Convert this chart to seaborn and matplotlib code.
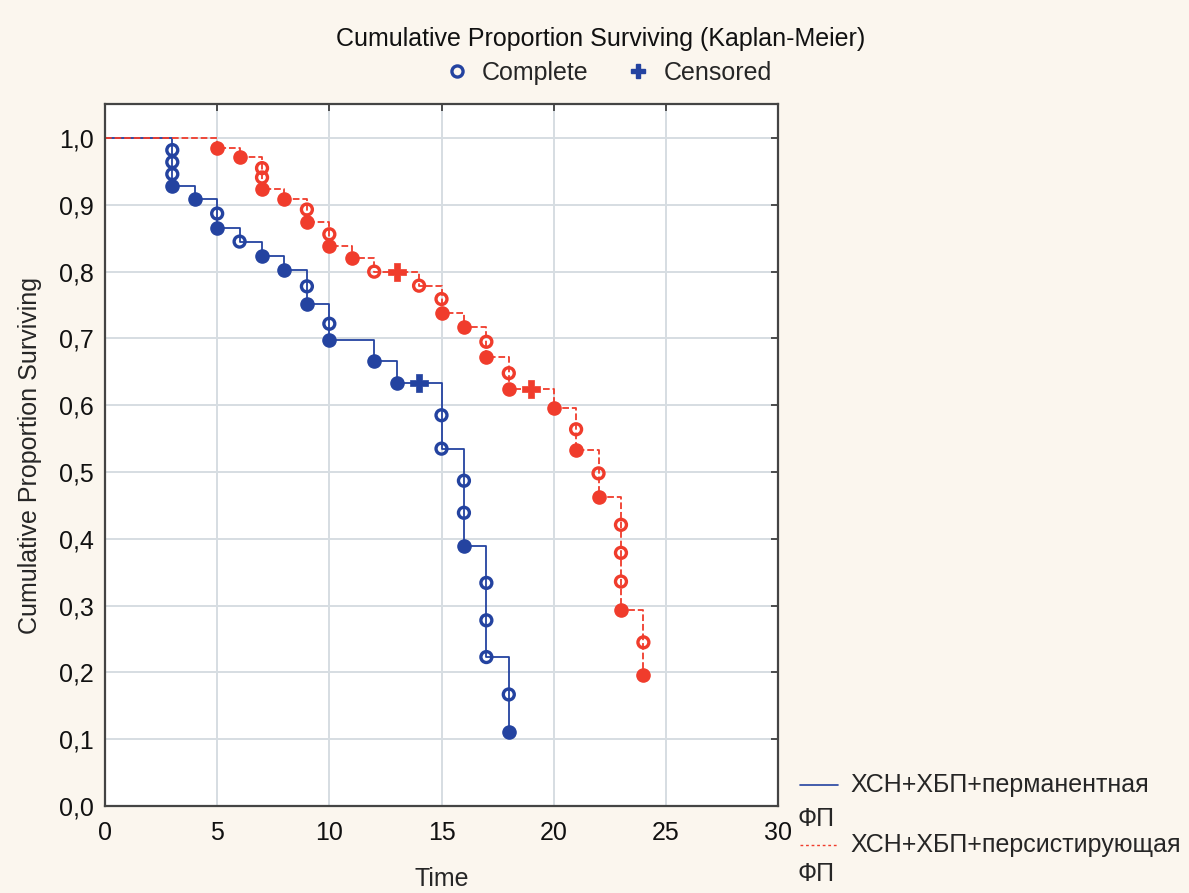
import numpy as np
import pandas as pd
import matplotlib
matplotlib.use("Agg")
import matplotlib.pyplot as plt
from matplotlib.lines import Line2D
import seaborn as sns

# ---- data ----
blue_open_t = [3, 3, 3, 5, 6, 9, 10, 15, 15, 16, 16, 17, 17, 17, 18]
blue_open_s = [0.982, 0.964, 0.946, 0.887, 0.845, 0.778, 0.722, 0.585, 0.535,
               0.487, 0.439, 0.334, 0.278, 0.223, 0.167]
blue_fill_t = [3, 4, 5, 7, 8, 9, 10, 12, 13, 16, 18]
blue_fill_s = [0.928, 0.909, 0.866, 0.823, 0.802, 0.752, 0.697, 0.666, 0.634, 0.390, 0.111]
blue_cens_t = [14]
blue_cens_s = [0.634]

red_open_t = [7, 7, 9, 10, 12, 14, 15, 17, 18, 21, 22, 23, 23, 23, 24]
red_open_s = [0.955, 0.941, 0.893, 0.856, 0.800, 0.779, 0.759, 0.695, 0.648,
              0.564, 0.498, 0.421, 0.379, 0.336, 0.245]
red_fill_t = [5, 6, 7, 8, 9, 10, 11, 15, 16, 17, 18, 20, 21, 22, 23, 24]
red_fill_s = [0.985, 0.971, 0.924, 0.909, 0.875, 0.838, 0.820, 0.738, 0.717,
              0.672, 0.624, 0.596, 0.533, 0.462, 0.294, 0.196]
red_cens_t = [13, 19]
red_cens_s = [0.800, 0.624]

group_labels = ["ХСН+ХБП+перманентная", "ХСН+ХБП+персистирующая"]
group_suffix = "ФП"
x_ticks = [0, 5, 10, 15, 20, 25, 30]
y_ticks = [0.0, 0.1, 0.2, 0.3, 0.4, 0.5, 0.6, 0.7, 0.8, 0.9, 1.0]
y_ticklabels = ["0,0", "0,1", "0,2", "0,3", "0,4", "0,5", "0,6", "0,7", "0,8", "0,9", "1,0"]

BLUE = "#2443A0"
RED = "#F03C2C"
BG = "#FBF6EE"
FS = 18

sns.set_style("white")
plt.rcParams["font.family"] = ["Liberation Sans", "DejaVu Sans"]

fig = plt.figure(figsize=(11.89, 8.93), dpi=100, facecolor=BG)
ax = fig.add_axes([105 / 1189, 1 - 806 / 893, (778 - 105) / 1189, (806 - 104) / 893])
ax.set_facecolor("white")


def step_frame(open_t, open_s, fill_t, fill_s):
    df = pd.DataFrame({"t": list(open_t) + list(fill_t), "s": list(open_s) + list(fill_s)})
    g = df.groupby("t")["s"].min().reset_index()
    return pd.concat([pd.DataFrame({"t": [0], "s": [1.0]}), g], ignore_index=True)


series = [
    (blue_open_t, blue_open_s, blue_fill_t, blue_fill_s, blue_cens_t, blue_cens_s, BLUE, "-"),
    (red_open_t, red_open_s, red_fill_t, red_fill_s, red_cens_t, red_cens_s, RED, "--"),
]

for ot, os_, ft, fs, ct, cs, col, ls in series:
    st = step_frame(ot, os_, ft, fs)
    sns.lineplot(data=st, x="t", y="s", ax=ax, estimator=None, sort=False,
                 drawstyle="steps-post", color=col, linestyle=ls, linewidth=1.3, zorder=2)
    sns.scatterplot(x=ot, y=os_, ax=ax, marker="o", s=62, facecolors="none",
                    edgecolor=col, linewidth=2.4, zorder=3)
    sns.scatterplot(x=ft, y=fs, ax=ax, marker="o", s=90, color=col,
                    edgecolor=col, linewidth=1, zorder=3)
    sns.scatterplot(x=ct, y=cs, ax=ax, marker="P", s=150, color=col,
                    edgecolor=col, linewidth=0.5, zorder=3)

ax.set_xlim(0, 30)
ax.set_ylim(0, 1.051)
ax.set_xticks(x_ticks)
ax.set_yticks(y_ticks)
ax.set_yticklabels(y_ticklabels)
ax.grid(True, color="#D6DDE2", linewidth=1.4)
ax.set_axisbelow(True)
ax.tick_params(direction="in", length=5, width=1.2, labelsize=FS, colors="#333333",
               labelcolor="#111111", right=True, top=True, pad=8)
ax.tick_params(axis="x", pad=11)
for sp in ax.spines.values():
    sp.set_color("#444444")
    sp.set_linewidth(1.6)
ax.set_xlabel("Time", fontsize=FS)
ax.set_ylabel("Cumulative Proportion Surviving", fontsize=FS)
ax.xaxis.set_label_coords(0.50, -0.087)
ax.yaxis.set_label_coords(-0.094, 0.5)
ax.legend_ = None

# Title and marker legend
fig.text(601 / 1189, 1 - 39 / 893, "Cumulative Proportion Surviving (Kaplan-Meier)",
         ha="center", va="center", fontsize=FS, color="#111111")
h_complete = Line2D([], [], marker="o", linestyle="none", markersize=8, markerfacecolor="none",
                    markeredgecolor=BLUE, markeredgewidth=2.4)
h_cens = Line2D([], [], marker="P", linestyle="none", markersize=10, color=BLUE)
fig.legend([h_complete, h_cens], ["Complete", "Censored"], loc="center",
           bbox_to_anchor=(608 / 1189, 1 - 73 / 893), ncol=2, frameon=False,
           fontsize=FS, handletextpad=0.5, columnspacing=1.5, handlelength=1.0)

# Group legend at bottom right
fig.add_artist(Line2D([800 / 1189, 838 / 1189], [1 - 785 / 893] * 2, color=BLUE, linewidth=1.2))
fig.text(850 / 1189, 1 - 785 / 893, group_labels[0], ha="left", va="center", fontsize=FS)
fig.text(797 / 1189, 1 - 819 / 893, group_suffix, ha="left", va="center", fontsize=FS)
fig.add_artist(Line2D([800 / 1189, 838 / 1189], [1 - 845 / 893] * 2, color=RED, linewidth=1.0,
                      linestyle=(0, (2, 2))))
fig.text(850 / 1189, 1 - 845 / 893, group_labels[1], ha="left", va="center", fontsize=FS)
fig.text(797 / 1189, 1 - 874 / 893, group_suffix, ha="left", va="center", fontsize=FS)

fig.savefig("out.png", dpi=100, facecolor=BG)
